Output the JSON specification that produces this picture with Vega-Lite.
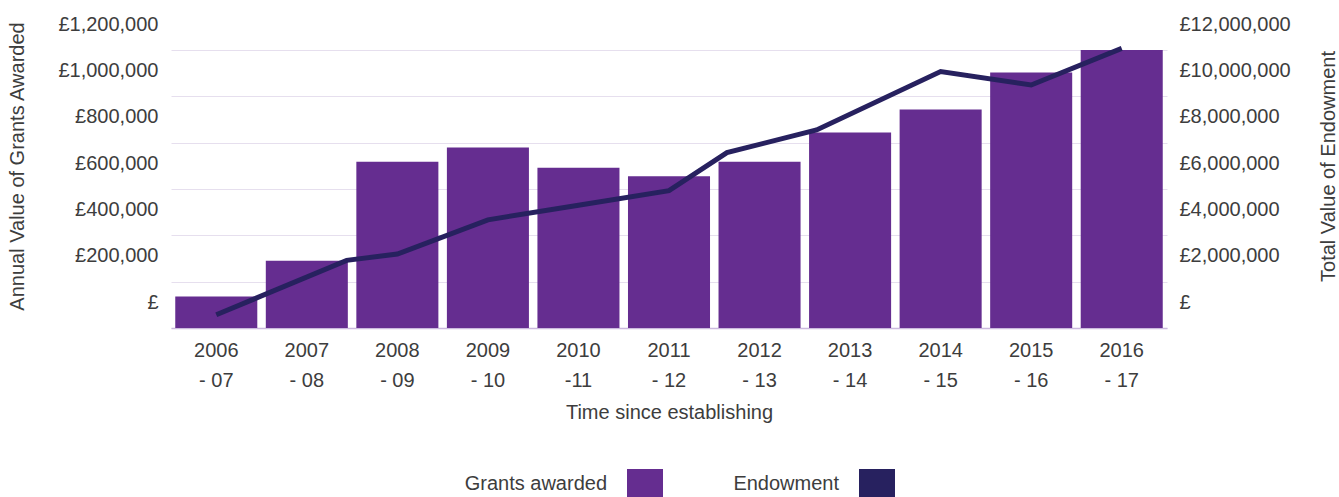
{
  "$schema": "https://vega.github.io/schema/vega-lite/v6.json",
  "width": 996,
  "height": 278,
  "autosize": {"type": "none"},
  "padding": {"left": 171, "top": 50, "right": 172, "bottom": 169},
  "background": "white",
  "config": {
    "view": {"stroke": null},
    "font": "Liberation Sans",
    "axis": {
      "labelFont": "Liberation Sans",
      "titleFont": "Liberation Sans",
      "labelFontSize": 20,
      "titleFontSize": 20,
      "titleFontWeight": "normal",
      "labelColor": "#3d3d3d",
      "titleColor": "#3d3d3d"
    },
    "legend": {
      "labelFont": "Liberation Sans",
      "labelFontSize": 20,
      "labelColor": "#3d3d3d"
    }
  },
  "layer": [
    {
      "data": {
        "values": [
          {"period": "2006\n- 07", "grants": 136500},
          {"period": "2007\n- 08", "grants": 290700},
          {"period": "2008\n- 09", "grants": 718000},
          {"period": "2009\n- 10", "grants": 779000},
          {"period": "2010\n-11", "grants": 692000},
          {"period": "2011\n- 12", "grants": 655000},
          {"period": "2012\n- 13", "grants": 718000},
          {"period": "2013\n- 14", "grants": 843600},
          {"period": "2014\n- 15", "grants": 943000},
          {"period": "2015\n- 16", "grants": 1102800},
          {"period": "2016\n- 17", "grants": 1200000}
        ]
      },
      "mark": {"type": "bar"},
      "encoding": {
        "x": {
          "field": "period",
          "type": "nominal",
          "sort": null,
          "scale": {"paddingInner": 0.094, "paddingOuter": 0.047},
          "axis": {
            "title": "Time since establishing",
            "labelAngle": 0,
            "labelExpr": "split(datum.value, '\\n')",
            "labelLineHeight": 30,
            "labelPadding": 12,
            "ticks": false,
            "domain": true,
            "domainColor": "#cbb9de",
            "domainWidth": 1.5,
            "titlePadding": 12
          }
        },
        "y": {
          "field": "grants",
          "type": "quantitative",
          "scale": {"domain": [0, 1200000], "nice": false},
          "axis": {
            "title": "Annual Value of Grants Awarded",
            "values": [0, 200000, 400000, 600000, 800000, 1000000, 1200000],
            "labelExpr": "datum.value == 0 ? '£' : '£' + format(datum.value, ',')",
            "labelOffset": -26,
            "labelPadding": 13,
            "ticks": false,
            "domain": false,
            "grid": true,
            "gridColor": "#e6dfee",
            "gridWidth": 1,
            "titlePadding": 30,
            "titleY": 116
          }
        },
        "color": {
          "datum": "Grants awarded",
          "type": "nominal",
          "scale": {"domain": ["Grants awarded", "Endowment"], "range": ["#652d90", "#27215f"]},
          "legend": {
            "title": null,
            "orient": "none",
            "legendX": 456,
            "legendY": 416,
            "direction": "horizontal",
            "symbolType": "M-1,-0.833H1V0.833H-1Z",
            "symbolSize": 1296,
            "symbolStrokeWidth": 0,
            "labelAlign": "right",
            "labelOffset": -56,
            "columnPadding": 70
          }
        }
      }
    },
    {
      "data": {
        "values": [
          {"year": 2006.5, "endowment": 570000},
          {"year": 2007.94, "endowment": 2920000},
          {"year": 2008.5, "endowment": 3190000},
          {"year": 2009.5, "endowment": 4670000},
          {"year": 2010.5, "endowment": 5300000},
          {"year": 2011.5, "endowment": 5930000},
          {"year": 2012.14, "endowment": 7570000},
          {"year": 2013.13, "endowment": 8550000},
          {"year": 2014.5, "endowment": 11070000},
          {"year": 2015.5, "endowment": 10490000},
          {"year": 2016.5, "endowment": 12070000}
        ]
      },
      "mark": {"type": "line", "color": "#27215f", "strokeWidth": 5, "strokeJoin": "miter", "strokeCap": "butt"},
      "encoding": {
        "x": {
          "field": "year",
          "type": "quantitative",
          "scale": {"domain": [2006, 2017], "nice": false, "zero": false},
          "axis": null
        },
        "y": {
          "field": "endowment",
          "type": "quantitative",
          "scale": {"domain": [0, 12000000], "nice": false},
          "axis": {
            "orient": "right",
            "title": "Total Value of Endowment",
            "titleAngle": 270,
            "values": [0, 2000000, 4000000, 6000000, 8000000, 10000000, 12000000],
            "labelExpr": "datum.value == 0 ? '£' : '£' + format(datum.value, ',')",
            "labelOffset": -26,
            "labelPadding": 12,
            "ticks": false,
            "domain": false,
            "grid": false,
            "titlePadding": 48,
            "titleY": 116
          }
        }
      }
    }
  ],
  "resolve": {"scale": {"x": "independent", "y": "independent"}}
}
